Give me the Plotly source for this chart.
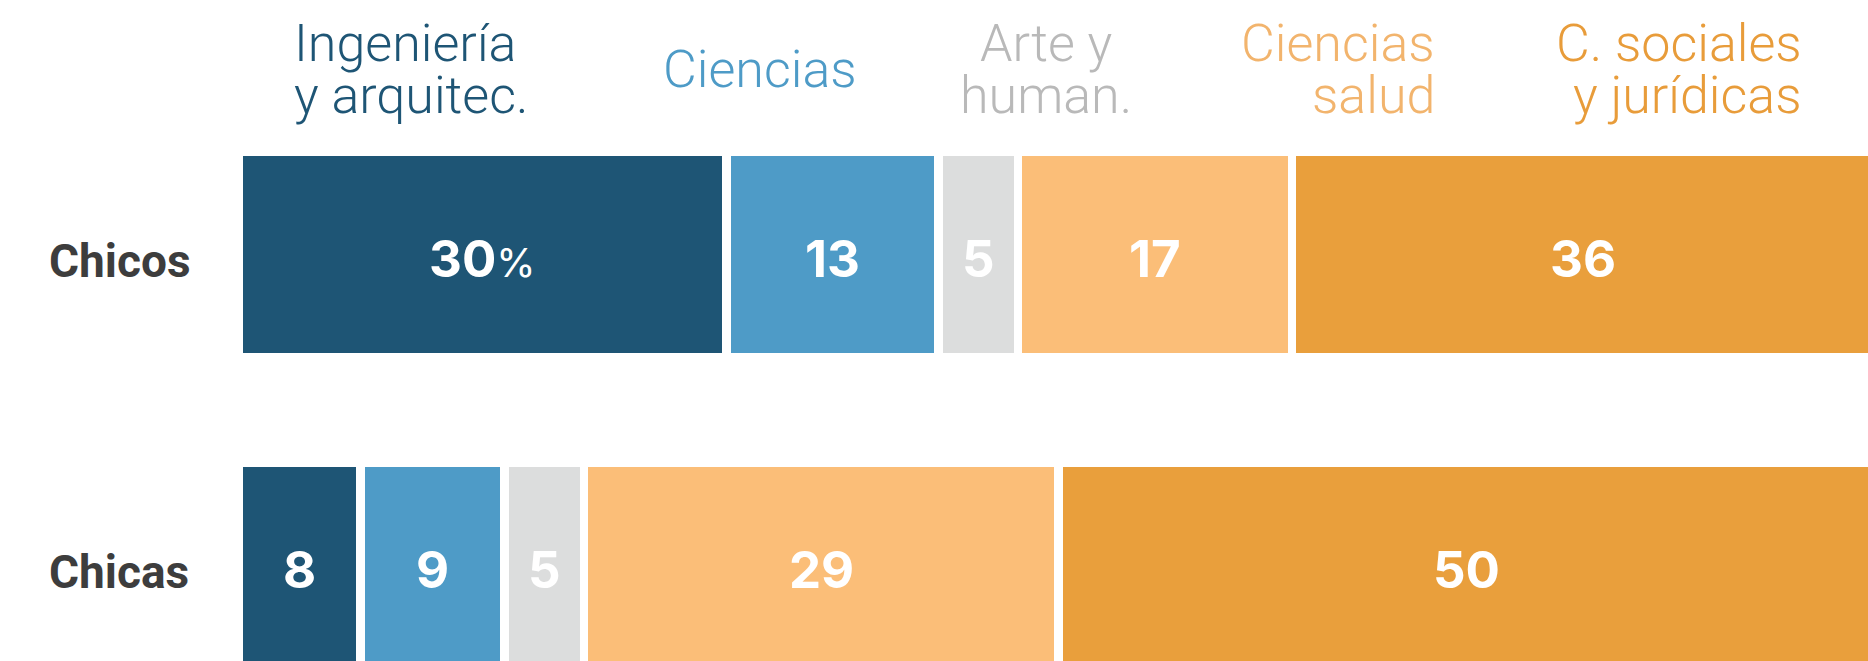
import plotly.graph_objects as go

# ---------------- data ----------------
groups = ["Chicos", "Chicas"]
fields = ["Ingeniería y arquitec.", "Ciencias", "Arte y human.",
          "Ciencias salud", "C. sociales y jurídicas"]
# shares (%); labels show them rounded
chicos = [30.1, 13.1, 4.9, 16.9, 36.0]
chicas = [7.5, 8.9, 4.9, 29.3, 50.4]
header_lines = [["Ingeniería", "y arquitec."], ["Ciencias"], ["Arte y", "human."],
                ["Ciencias", "salud"], ["C. sociales", "y jurídicas"]]

# ---------------- styles ----------------
bar_colors = ["#1e5575", "#4e9bc7", "#dcdddd", "#fbbe78", "#e99f3c"]
label_colors = ["#1e5575", "#4e9bc7", "#b9b9b9", "#f2b46d", "#e89c3a"]

W, H = 1868, 661
L, T = 238.75, 99.0
KX = 16.2          # px per percentage point
GAP = 8.5          # white separator width

def px_x(x):
    return (x - L) / (W - L)

def px_y(y):
    return (H - y) / (H - T)

fig = go.Figure()
series = {"Chicos": chicos, "Chicas": chicas}
for i, f in enumerate(fields):
    vals = [chicos[i], chicas[i]]
    fig.add_trace(go.Bar(
        y=groups, x=vals, orientation="h", name=f,
        marker=dict(color=bar_colors[i], line=dict(color="white", width=GAP)),
        width=0.661, hoverinfo="skip",
    ))

# value labels centred in each segment (data coordinates)
for g in groups:
    base = 0.0
    for i, v in enumerate(series[g]):
        txt = f"{v:.0f}"
        if g == "Chicos" and i == 0:
            txt += "<span style='font-size:40px;font-weight:normal'>%</span>"
        fig.add_annotation(
            text=txt, xref="x", yref="y", x=base + v / 2, y=g,
            xanchor="center", yanchor="middle", yshift=-4, showarrow=False,
            font=dict(family="Inter", size=51, color="white", weight="bold"),
        )
        base += v

# row labels
for g in groups:
    fig.add_annotation(
        text=g, xref="paper", yref="y", x=px_x(47), y=g,
        xanchor="left", yanchor="middle", yshift=-6, showarrow=False,
        font=dict(family="Roboto", size=46, color="#3d3d3d", weight="bold"),
    )

# header labels (position spec per field: anchor, x px, line centres px)
header_pos = [("left", 292, [43, 95]), ("center", 760, [69]),
              ("center", 1046, [43, 95]), ("right", 1437, [43, 95]),
              ("right", 1804, [43, 95])]
for i, lines in enumerate(header_lines):
    anchor, xp, ys = header_pos[i]
    for line, yp in zip(lines, ys):
        fig.add_annotation(
            text=line, xref="paper", yref="paper",
            x=px_x(xp), y=px_y(yp), xanchor=anchor, yanchor="middle",
            showarrow=False, align=anchor,
            font=dict(family="Roboto", size=52, color=label_colors[i], weight=300),
        )

x_end = (W - L) / KX
fig.update_layout(
    width=W, height=H,
    barmode="stack", showlegend=False,
    paper_bgcolor="white", plot_bgcolor="white",
    margin=dict(l=L, r=0, t=T, b=0, pad=0, autoexpand=False),
    xaxis=dict(range=[0, x_end], visible=False, fixedrange=True),
    yaxis=dict(range=[1.307, -0.5], showgrid=False, zeroline=False, showline=False,
               ticks="", showticklabels=False, fixedrange=True),
    hovermode=False,
)
fig.write_html(
    "out.html",
    config={"displayModeBar": False},
    post_script="document.body.style.margin='0';document.body.style.overflow='hidden';",
)
